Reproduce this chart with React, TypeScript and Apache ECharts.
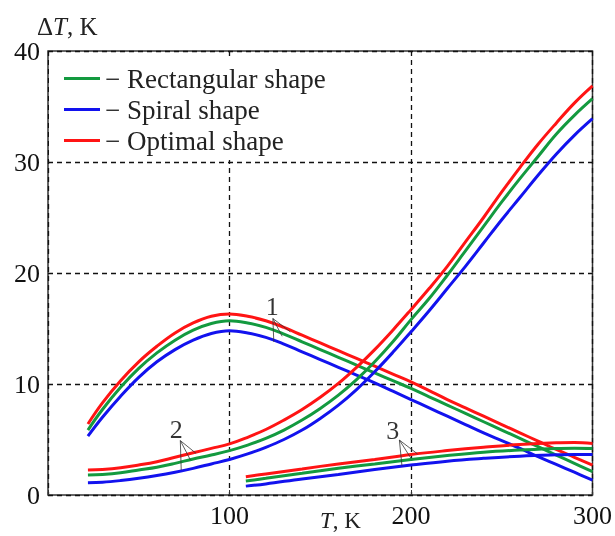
import React, { useEffect, useRef } from "react";
import * as echarts from "echarts";

// ---- data ----
const tempA = [22, 30, 40, 50, 60, 70, 80, 90, 100, 110, 120, 130, 140, 150, 160, 170, 180, 190, 200, 210, 220, 230, 240, 250, 260, 270, 280, 290, 300];

// curve family 1 (hump)
const rect1 = [5.85, 7.7, 9.7, 11.4, 12.8, 13.95, 14.85, 15.45, 15.7, 15.5, 15.1, 14.5, 13.8, 13.1, 12.4, 11.7, 11.0, 10.3, 9.6, 8.85, 8.1, 7.35, 6.6, 5.85, 5.1, 4.35, 3.6, 2.85, 2.1];
const spiral1 = [5.3, 7.0, 8.9, 10.6, 12.0, 13.1, 13.95, 14.55, 14.8, 14.6, 14.2, 13.6, 12.9, 12.2, 11.5, 10.8, 10.1, 9.35, 8.6, 7.85, 7.1, 6.35, 5.6, 4.9, 4.2, 3.45, 2.75, 2.05, 1.35];
const optimal1 = [6.4, 8.3, 10.3, 12.0, 13.4, 14.6, 15.5, 16.1, 16.3, 16.1, 15.7, 15.1, 14.4, 13.7, 13.0, 12.3, 11.6, 10.9, 10.2, 9.4, 8.6, 7.85, 7.1, 6.35, 5.6, 4.85, 4.1, 3.4, 2.7];

// curve family 2 (rising)
const rect2 = [1.8, 1.85, 2.0, 2.25, 2.5, 2.85, 3.25, 3.6, 4.0, 4.5, 5.1, 5.85, 6.75, 7.8, 9.0, 10.4, 12.0, 13.8, 15.8, 17.7, 19.8, 22.0, 24.2, 26.4, 28.5, 30.5, 32.5, 34.2, 35.7];
const spiral2 = [1.1, 1.15, 1.3, 1.5, 1.75, 2.05, 2.4, 2.8, 3.2, 3.7, 4.3, 5.0, 5.85, 6.9, 8.1, 9.5, 11.1, 12.85, 14.7, 16.6, 18.6, 20.6, 22.7, 24.8, 26.8, 28.8, 30.7, 32.4, 33.9];
const optimal2 = [2.25, 2.3, 2.45, 2.7, 3.0, 3.4, 3.8, 4.2, 4.6, 5.2, 5.9, 6.75, 7.7, 8.8, 10.05, 11.5, 13.1, 14.85, 16.7, 18.6, 20.6, 22.8, 25.0, 27.3, 29.5, 31.6, 33.5, 35.3, 36.85];

// curve family 3 (flat)
const tempB = [109, 120, 140, 160, 180, 200, 220, 240, 260, 280, 290, 300];
const rect3 = [1.26, 1.5, 1.95, 2.4, 2.8, 3.2, 3.55, 3.85, 4.05, 4.2, 4.22, 4.2];
const spiral3 = [0.8, 1.0, 1.45, 1.85, 2.3, 2.7, 3.05, 3.3, 3.5, 3.62, 3.65, 3.65];
const optimal3 = [1.65, 1.9, 2.35, 2.8, 3.2, 3.65, 4.0, 4.3, 4.55, 4.7, 4.72, 4.65];

const seriesNames = ["Rectangular shape", "Spiral shape", "Optimal shape"];
const seriesColors = ["#139a3f", "#1212ee", "#ff1414"];

// annotations: curve family numbers and their pointer lines
const curveLabels = ["1", "2", "3"];
const labelPos = [[123.5, 17.0], [70.7, 5.9], [190, 5.85]];
const pointerApex = [[123.9, 15.9], [72.9, 4.9], [193.6, 4.95]];
const pointerEnds = [
  [[133.5, 14.7], [129, 14.3], [124.4, 13.8]],
  [[81.6, 3.75], [78.5, 3.15], [73.4, 2.25]],
  [[203.6, 3.7], [200, 3.3], [195, 2.65]],
];

const xMin = 0, xMax = 300, xStep = 100;
const yMin = 0, yMax = 40, yStep = 10;

const FONT = "'Liberation Serif', 'Times New Roman', serif";

function zip(xs: number[], ys: number[]) {
  return xs.map((x, i) => [x, ys[i]]);
}

export default function App() {
  const ref = useRef<HTMLDivElement>(null);
  useEffect(() => {
    if (!ref.current) return;
    const chart = echarts.init(ref.current, null, { renderer: "svg" });
    const families = [
      [rect1, spiral1, optimal1, tempA],
      [rect2, spiral2, optimal2, tempA],
      [rect3, spiral3, optimal3, tempB],
    ] as any[];
    const lineSeries: any[] = [];
    families.forEach((fam) => {
      [0, 1, 2].forEach((k) => {
        lineSeries.push({
          type: "line",
          name: seriesNames[k],
          data: zip(fam[3], fam[k]),
          smooth: 0.4,
          symbol: "none",
          lineStyle: { color: seriesColors[k], width: 3 },
          itemStyle: { color: seriesColors[k] },
          z: 3,
        });
      });
    });
    const pointerData: any[] = [];
    pointerApex.forEach((apex, i) => {
      pointerEnds[i].forEach((end) => {
        pointerData.push({ coords: [apex, end] });
      });
    });
    chart.setOption({
      animation: false,
      grid: {
        left: 48,
        top: 51,
        right: 17,
        bottom: 41,
        show: true,
        borderColor: "#333",
        borderWidth: 1.5,
        backgroundColor: "transparent",
      },
      legend: {
        data: seriesNames,
        orient: "vertical",
        left: 49,
        top: 57,
        padding: [8, 10, 6, 15],
        backgroundColor: "#ffffff",
        icon: "rect",
        itemWidth: 36,
        itemHeight: 3,
        itemGap: 4,
        itemTextGap: 12,
        formatter: (n: string) => "\u2212 " + n,
        textStyle: { fontFamily: FONT, fontSize: 27, color: "#222", lineHeight: 27 },
        selectedMode: false,
        z: 10,
      },
      xAxis: {
        type: "value",
        min: xMin,
        max: xMax,
        interval: xStep,
        axisLine: { show: false },
        axisTick: { show: true, inside: true, length: 5, lineStyle: { color: "#333" } },
        axisLabel: {
          fontFamily: FONT,
          fontSize: 26,
          color: "#111",
          margin: 7,
          formatter: (v: number) => (v === 0 ? "" : String(v)),
        },
        splitLine: { show: true, lineStyle: { color: "#111", type: [5, 4], width: 1.3 } },
      },
      yAxis: {
        type: "value",
        min: yMin,
        max: yMax,
        interval: yStep,
        axisLine: { show: false },
        axisTick: { show: false },
        axisLabel: { fontFamily: FONT, fontSize: 26, color: "#111", margin: 8 },
        splitLine: { show: true, lineStyle: { color: "#111", type: [5, 4], width: 1.3 } },
      },
      graphic: [
        {
          type: "text",
          left: 37,
          top: 14,
          style: {
            text: "{n|\u0394}{i|T}{n|, K}",
            rich: {
              n: { fontFamily: FONT, fontSize: 25, fill: "#222" },
              i: { fontFamily: FONT, fontSize: 25, fontStyle: "italic", fill: "#222" },
            },
          },
        },
        {
          type: "text",
          left: 320,
          top: 509,
          style: {
            text: "{i|T}{n|, K}",
            rich: {
              n: { fontFamily: FONT, fontSize: 23, fill: "#222" },
              i: { fontFamily: FONT, fontSize: 23, fontStyle: "italic", fill: "#222" },
            },
          },
        },
      ],
      series: [
        ...lineSeries,
        {
          type: "lines",
          coordinateSystem: "cartesian2d",
          polyline: false,
          silent: true,
          data: pointerData,
          lineStyle: { color: "#333", width: 0.8, opacity: 1 },
          z: 4,
        },
        {
          type: "scatter",
          silent: true,
          symbolSize: 0,
          itemStyle: { color: "#000" },
          data: labelPos.map((p, i) => ({ value: p, name: curveLabels[i] })),
          label: {
            show: true,
            position: "inside",
            formatter: (p: any) => p.name,
            fontFamily: FONT,
            fontSize: 26,
            color: "#000",
            textBorderWidth: 0,
          },
          z: 5,
        },
      ],
    });
    return () => chart.dispose();
  }, []);
  return <div ref={ref} style={{ position: "fixed", left: 0, top: 0, width: 615, height: 536 }} />;
}
